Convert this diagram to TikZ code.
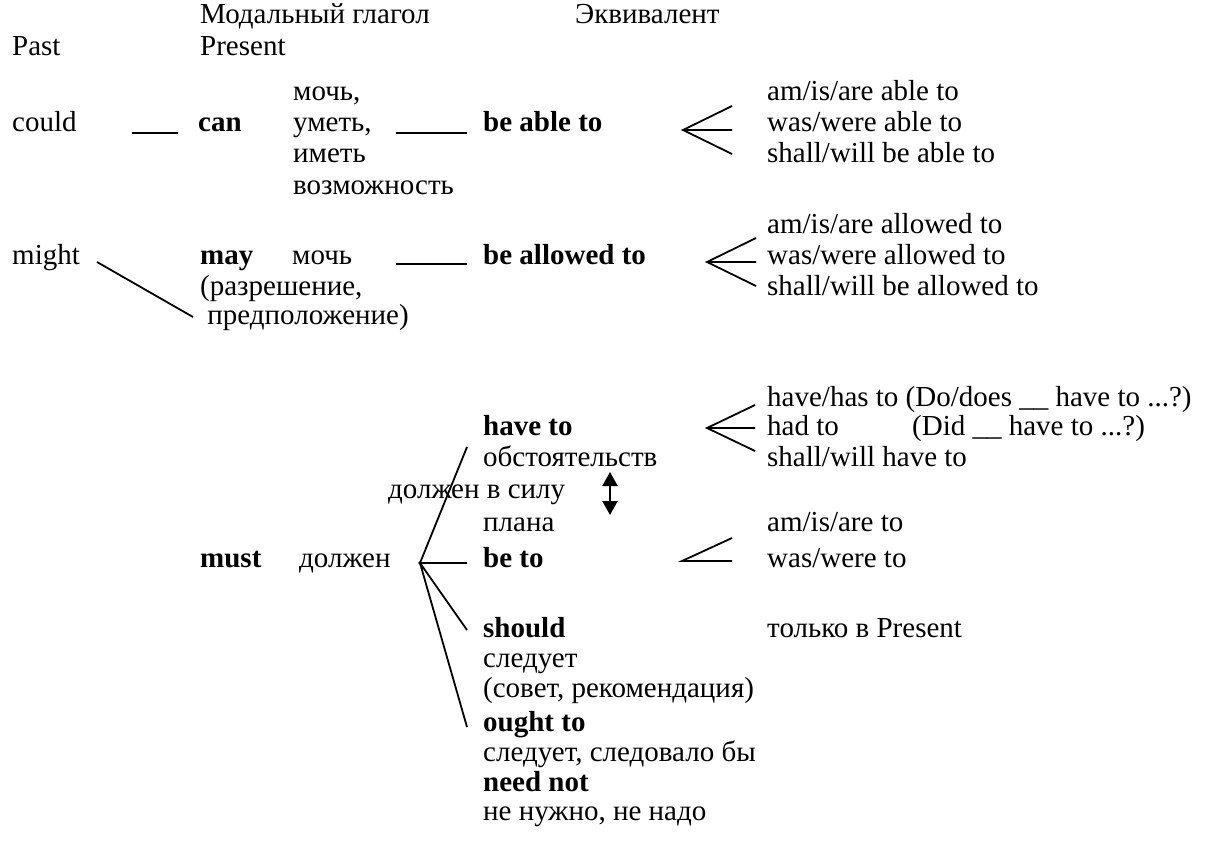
\documentclass[tikz,border=0pt]{standalone}
\usepackage{fontspec}
\setmainfont{Liberation Serif}
\usetikzlibrary{arrows.meta}
\begin{document}
\begin{tikzpicture}[x=1pt,y=-1pt,
  every node/.style={inner sep=0pt,anchor=base west,font=\fontsize{29}{31}\selectfont},
  lbl/.style={},
  kw/.style={font=\fontsize{29}{31}\selectfont\bfseries},
  link/.style={line width=1.8pt},
  dbl/.style={line width=2.2pt,{Triangle[width=15pt,length=14pt]}-{Triangle[width=15pt,length=14pt]}}]
\fill[white] (0,0) rectangle (1207,846);
\useasboundingbox (0,0) rectangle (1207,846);

% headings
\node[lbl] (hmod) at (200,23) {Модальный глагол};
\node[lbl] (hekv) at (575,23) {Эквивалент};
\node[lbl] (hpast) at (12,55) {Past};
\node[lbl] (hpres) at (200,55) {Present};

% can
\node[lbl] (can1) at (293,100) {мочь,};
\node[lbl] (could) at (12,131) {could};
\node[kw] (can) at (198,131) {can};
\node[lbl] (can2) at (293,131) {уметь,};
\node[lbl] (can3) at (293,162) {иметь};
\node[lbl] (can4) at (293,194) {возможность};
\node[kw] (able) at (483,131) {be able to};
\node[lbl] (able1) at (767,100) {am/is/are able to};
\node[lbl] (able2) at (767,131) {was/were able to};
\node[lbl] (able3) at (767,162) {shall/will be able to};

\coordinate (couldR) at (132,133);
\coordinate (canL) at (178,133);
\coordinate (canR) at (396,133);
\coordinate (ableL) at (467,133);
\draw[link] (couldR) -- (canL);
\draw[link] (canR) -- (ableL);
\coordinate (fanA) at (683,130);
\coordinate (fanA1) at (732,106);
\coordinate (fanA2) at (732,130);
\coordinate (fanA3) at (732,154);
\draw[link] (fanA1) -- (fanA) -- (fanA3) (fanA) -- (fanA2);

% may
\node[lbl] (allow1) at (767,233) {am/is/are allowed to};
\node[lbl] (might) at (12,264) {might};
\node[kw] (may) at (200,264) {may};
\node[lbl] (may1) at (292,264) {мочь};
\node[kw] (allow) at (483,264) {be allowed to};
\node[lbl] (allow2) at (767,264) {was/were allowed to};
\node[lbl] (may2) at (200,295) {(разрешение,};
\node[lbl] (allow3) at (767,295) {shall/will be allowed to};
\node[lbl] (may3) at (200,324) {\ предположение)};

\coordinate (mightR) at (97,262);
\coordinate (mayL) at (193,317);
\draw[link] (mightR) -- (mayL);
\coordinate (mayR) at (396,264);
\coordinate (allowL) at (467,264);
\draw[link] (mayR) -- (allowL);
\coordinate (fanB) at (707,262);
\coordinate (fanB1) at (756,238);
\coordinate (fanB2) at (756,262);
\coordinate (fanB3) at (756,286);
\draw[link] (fanB1) -- (fanB) -- (fanB3) (fanB) -- (fanB2);

% must
\node[lbl] (have1) at (767,406) {have/has to (Do/does \textunderscore\textunderscore\ have to ...?)};
\node[kw] (haveto) at (483,435) {have to};
\node[lbl] (have2) at (767,435) {had to};
\node[lbl] (have2q) at (912,435) {(Did \textunderscore\textunderscore\ have to ...?)};
\node[lbl] (circ) at (483,466) {обстоятельств};
\node[lbl] (have3) at (767,466) {shall/will have to};
\node[lbl] (force) at (388,498) {должен в силу};
\node[lbl] (plan) at (483,531) {плана};
\node[lbl] (beto1) at (767,531) {am/is/are to};
\node[kw] (must) at (200,567) {must};
\node[lbl] (must1) at (299,567) {должен};
\node[kw] (beto) at (483,567) {be to};
\node[lbl] (beto2) at (767,567) {was/were to};
\node[kw] (should) at (483,637) {should};
\node[lbl] (only) at (767,637) {только в Present};
\node[lbl] (should1) at (483,667) {следует};
\node[lbl] (should2) at (483,697) {(совет, рекомендация)};
\node[kw] (ought) at (483,731) {ought to};
\node[lbl] (ought1) at (483,761) {следует, следовало бы};
\node[kw] (need) at (483,791) {need not};
\node[lbl] (need1) at (483,820) {не нужно, не надо};

\coordinate (mustA) at (420,563);
\coordinate (mustT) at (467,447);
\coordinate (mustM) at (467,563);
\coordinate (mustS) at (467,630);
\coordinate (mustO) at (467,727);
\draw[link] (mustA) -- (mustT) (mustA) -- (mustM) (mustA) -- (mustS) (mustA) -- (mustO);
\fill (mustA) circle (1.8pt);

\coordinate (arrT) at (610,472);
\coordinate (arrB) at (610,515);
\draw[dbl] (arrT) -- (arrB);

\coordinate (fanC) at (707,428);
\coordinate (fanC1) at (755,405);
\coordinate (fanC2) at (755,428);
\coordinate (fanC3) at (755,451);
\draw[link] (fanC1) -- (fanC) -- (fanC3) (fanC) -- (fanC2);

\coordinate (fanD) at (682,561);
\coordinate (fanD1) at (732,538);
\coordinate (fanD2) at (732,561);
\draw[link] (fanD1) -- (fanD) -- (fanD2);
\end{tikzpicture}
\end{document}
